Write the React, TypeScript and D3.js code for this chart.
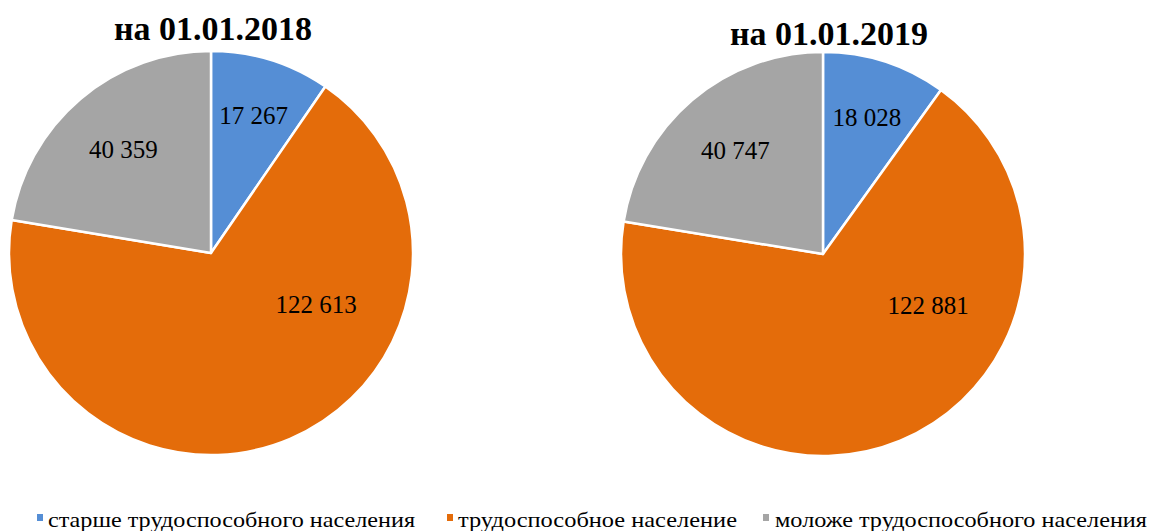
import React from "react";
import * as d3 from "d3";

const categories = ["старше трудоспособного населения", "трудоспособное население", "моложе трудоспособного населения"];
const titles = ["на 01.01.2018", "на 01.01.2019"];
const values2018 = [17267, 122613, 40359];
const values2019 = [18028, 122881, 40747];
const labels2018 = ["17 267", "122 613", "40 359"];
const labels2019 = ["18 028", "122 881", "40 747"];
const colors = ["#558ED5", "#E46C0A", "#A5A5A5"];

// label placement: [angle override (null = centroid angle), radius fraction]
const labelPlace: [number | null, number][] = [[null, 0.71], [2.03, 0.58], [null, 0.67]];

const W = 1150, H = 531, R = 202;
const centers = [[211, 253], [823, 254]];
const titlePos = [[213, 40], [829, 45]];
const legendX = [[37, 48, 415], [447, 458, 737], [763, 775, 1147]];
const FONT = "Liberation Serif";

function Pie({ values, labels, cx, cy }: { values: number[]; labels: string[]; cx: number; cy: number }) {
  const pie = d3.pie<number>().sort(null).value((d) => d)(values);
  const arc = d3.arc<d3.PieArcDatum<number>>().innerRadius(0).outerRadius(R);
  return (
    <g transform={`translate(${cx},${cy})`}>
      {pie.map((p, i) => (
        <path key={i} d={arc(p) || ""} fill={colors[i]} stroke="#fff" strokeWidth={2.5} strokeLinejoin="round" />
      ))}
      {pie.map((p, i) => {
        const [ov, rf] = labelPlace[i];
        const a = ov ?? (p.startAngle + p.endAngle) / 2;
        const r = rf * R;
        return (
          <text key={"t" + i} x={Math.sin(a) * r} y={-Math.cos(a) * r + 8} textAnchor="middle"
            style={{ fontFamily: FONT }} fontSize={25} fill="#000">
            {labels[i]}
          </text>
        );
      })}
    </g>
  );
}

export default function App() {
  return (
    <svg width={W} height={H} style={{ position: "absolute", left: 0, top: 0, background: "#fff" }}>
      <rect width={W} height={H} fill="#fff" />
      {titles.map((t, i) => (
        <text key={t} x={titlePos[i][0]} y={titlePos[i][1]} textAnchor="middle"
          style={{ fontFamily: FONT }} fontWeight="bold" fontSize={34} fill="#000">
          {t}
        </text>
      ))}
      <Pie values={values2018} labels={labels2018} cx={centers[0][0]} cy={centers[0][1]} />
      <Pie values={values2019} labels={labels2019} cx={centers[1][0]} cy={centers[1][1]} />
      {categories.map((c, i) => (
        <g key={c}>
          <rect x={legendX[i][0]} y={514} width={6} height={7} fill={colors[i]} />
          <text x={legendX[i][1]} y={527} style={{ fontFamily: FONT }} fontSize={22}
            fill="#000" textLength={legendX[i][2] - legendX[i][1]} lengthAdjust="spacingAndGlyphs">
            {c}
          </text>
        </g>
      ))}
    </svg>
  );
}
